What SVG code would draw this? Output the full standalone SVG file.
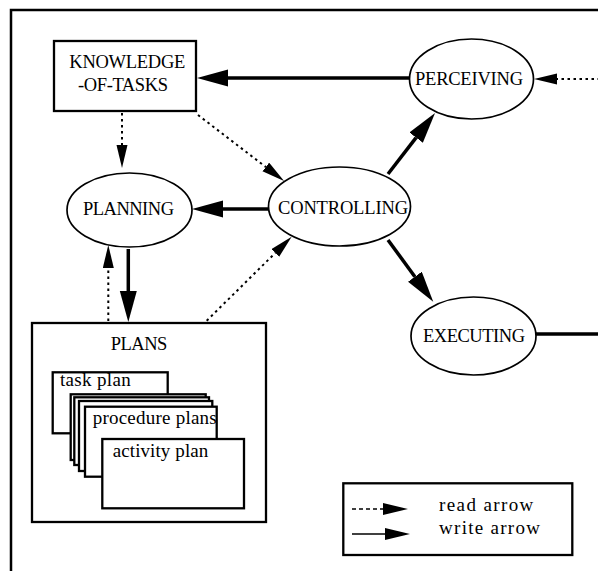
<svg xmlns="http://www.w3.org/2000/svg" width="598" height="571" viewBox="0 0 598 571">
<style>
text{font-family:"Liberation Serif","Times New Roman",serif;fill:#000}
.cap{font-size:18.5px}
.low{font-size:19px}
.box{fill:#fff;stroke:#000;stroke-width:2.3}
.ell{fill:#fff;stroke:#000;stroke-width:1.7}
.w{stroke:#000;stroke-width:3.5;fill:none;marker-end:url(#wh)}
.r{stroke:#000;stroke-width:2;fill:none;stroke-dasharray:2.5 3.5;marker-end:url(#rh)}
</style>
<defs>
<marker id="wh" markerUnits="userSpaceOnUse" markerWidth="32" markerHeight="18" refX="0" refY="8.5" orient="auto"><path d="M0,0 L31,8.5 L0,17 z" fill="#000"/></marker>
<marker id="rh" markerUnits="userSpaceOnUse" markerWidth="24" markerHeight="12" refX="0" refY="5.5" orient="auto"><path d="M0,0 L23,5.5 L0,11 z" fill="#000"/></marker>
<marker id="lh" markerUnits="userSpaceOnUse" markerWidth="26" markerHeight="13" refX="0" refY="6" orient="auto"><path d="M0,0 L25,6 L0,12 z" fill="#000"/></marker>
</defs>
<rect width="598" height="571" fill="#fff"/>
<rect id="frame" x="11" y="10" width="620" height="620" fill="none" stroke="#000" stroke-width="2.5"/>

<g id="connectors">
<line class="w" x1="409" y1="78" x2="228" y2="78"/>
<line class="w" x1="268" y1="209" x2="223" y2="209"/>
<line class="w" x1="388" y1="174" x2="416.1" y2="137.6"/>
<line class="w" x1="388" y1="240" x2="414.9" y2="276.7"/>
<line class="w" x1="128.3" y1="249" x2="128.3" y2="291"/>
<line x1="536" y1="334" x2="600" y2="334" stroke="#000" stroke-width="3.5"/>
<line class="r" x1="600" y1="79" x2="557" y2="79"/>
<line class="r" x1="122" y1="113" x2="122" y2="145"/>
<line class="r" x1="198" y1="115" x2="265.8" y2="167"/>
<line class="r" x1="108.3" y1="321" x2="108.3" y2="268"/>
<line class="r" x1="206.7" y1="320.7" x2="275.3" y2="252.9"/>
</g>

<g id="knowledge">
<rect class="box" x="54" y="41" width="142" height="70"/>
<text class="cap" x="69.3" y="68.3" textLength="116" lengthAdjust="spacing">KNOWLEDGE</text>
<text class="cap" x="78" y="91" textLength="90" lengthAdjust="spacing">-OF-TASKS</text>
</g>

<g id="perceiving">
<ellipse class="ell" cx="471.5" cy="79" rx="62" ry="40"/>
<text class="cap" x="415" y="85" textLength="108" lengthAdjust="spacing">PERCEIVING</text>
</g>

<g id="planning">
<ellipse class="ell" cx="129.5" cy="210" rx="62.5" ry="37"/>
<text class="cap" x="83" y="215" textLength="91" lengthAdjust="spacing">PLANNING</text>
</g>

<g id="controlling">
<ellipse class="ell" cx="339.5" cy="206.5" rx="71" ry="39.5"/>
<text class="cap" x="278" y="213.5" textLength="130" lengthAdjust="spacing">CONTROLLING</text>
</g>

<g id="executing">
<ellipse class="ell" cx="473.5" cy="336" rx="62.5" ry="39"/>
<text class="cap" x="423" y="342" textLength="102" lengthAdjust="spacing">EXECUTING</text>
</g>

<g id="plans">
<rect class="box" x="32" y="323" width="234" height="199"/>
<text class="cap" x="110.7" y="350" textLength="56.6" lengthAdjust="spacing">PLANS</text>
<g id="task-plan">
<rect class="box" x="52.7" y="372.3" width="115" height="61"/>
<text class="low" x="60" y="386" textLength="70.7" lengthAdjust="spacing">task plan</text>
</g>
<g id="procedure-plans">
<rect class="box" x="70.7" y="394.3" width="135" height="65.7"/>
<rect class="box" x="74.3" y="397.3" width="134.7" height="67.7"/>
<rect class="box" x="79" y="401" width="133.3" height="70"/>
<rect class="box" x="85" y="406.7" width="131.7" height="70"/>
<text class="low" x="92.7" y="424" textLength="124" lengthAdjust="spacing">procedure plans</text>
</g>
<g id="activity-plan">
<rect class="box" x="102.3" y="439" width="141.7" height="69.3"/>
<text class="low" x="112.7" y="457.3" textLength="95.6" lengthAdjust="spacing">activity plan</text>
</g>
</g>

<g id="legend">
<rect class="box" x="343.3" y="483.3" width="229" height="71.7"/>
<line x1="352" y1="509" x2="383" y2="509" stroke="#000" stroke-width="1.7" stroke-dasharray="4 3" marker-end="url(#lh)"/>
<line x1="352" y1="534" x2="385" y2="534" stroke="#000" stroke-width="1.7" marker-end="url(#lh)"/>
<text class="low" x="439" y="511" textLength="94.3" lengthAdjust="spacing">read arrow</text>
<text class="low" x="439" y="534.3" textLength="101" lengthAdjust="spacing">write arrow</text>
</g>
</svg>
